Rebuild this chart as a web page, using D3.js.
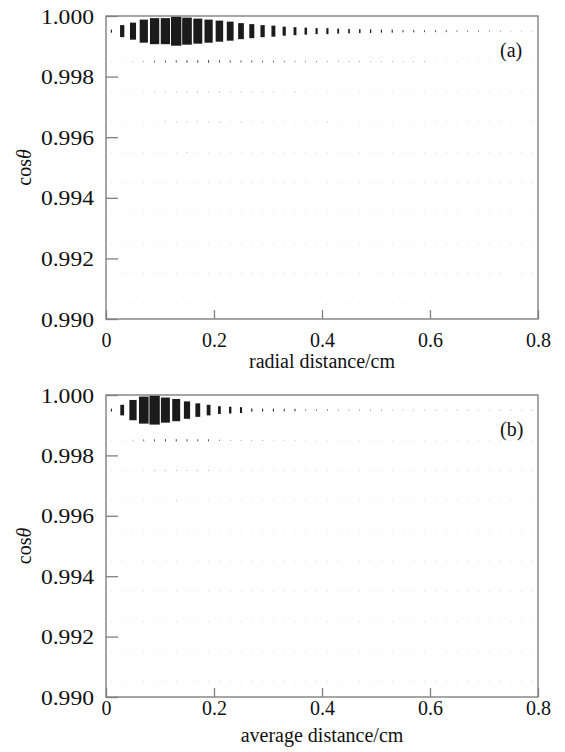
<!DOCTYPE html>
<html>
<head>
<meta charset="utf-8">
<script src="https://cdn.jsdelivr.net/npm/d3@7"></script>
<style>
  body { margin: 0; background: #fff; }
</style>
</head>
<body>
<div id="chart"></div>
<script>

// bin centres (distance in cm, cos theta)
var distBins = [0.01,0.03,0.05,0.07,0.09,0.11,0.13,0.15,0.17,0.19,
                0.21,0.23,0.25,0.27,0.29,0.31,0.33,0.35,0.37,0.39,
                0.41,0.43,0.45,0.47,0.49,0.51,0.53,0.55,0.57,0.59,
                0.61,0.63,0.65,0.67,0.69,0.71,0.73,0.75,0.77,0.79];
var cosBins = [0.9995,0.9985,0.9975,0.9965,0.9955,0.9945,0.9935,0.9925,0.9915,0.9905];

var xTicks = [0, 0.2, 0.4, 0.6, 0.8];
var yTicks = [0.990, 0.992, 0.994, 0.996, 0.998, 1.000];

// counts per cos bin row (top row first), panel (a)
var countsA = [
  [22,342,688,1258,1608,1608,2000,1734,1486,1258,1048,858,608,466,342,288,192,152,116,86,86,60,48,38,30,22,22,14,14,10,10,10,6,6,6,4,4,2,2,2],
  [1,1,2,3,8,10,12,14,14,14,12,12,10,10,8,8,6,5,4,4,3,3,3,3,2,2,2,2,2,2,1,1,1,1,1,1,1,1,1,1],
  [1,1,1,1,2,2,2,3,3,2,3,2,2,2,2,2,1,2,1,1,1,1,1,1,1,1,1,1,1,1,1,1,1,1,1,1,1,1,1,1],
  [1,1,1,1,1,2,2,2,2,2,2,1,2,1,2,1,1,1,1,1,2,1,1,1,1,1,1,1,1,1,1,1,1,1,1,1,1,1,0,1],
  [1,1,1,1,1,1,1,2,1,1,1,1,1,1,1,1,1,1,1,1,1,1,1,1,1,1,1,1,1,1,1,1,1,1,1,1,1,1,1,1],
  [1,1,1,1,1,1,1,1,1,1,1,1,1,1,1,1,1,1,1,0,1,1,1,1,1,1,1,1,1,1,1,1,1,1,1,1,1,1,1,1],
  [1,0,1,1,1,1,1,1,1,1,1,1,1,1,1,1,1,1,1,1,1,1,1,1,1,1,1,1,1,1,1,1,1,0,1,1,1,1,0,1],
  [1,1,1,1,1,1,1,1,1,1,1,1,1,1,1,1,1,1,1,1,1,1,1,1,1,1,1,1,1,1,1,1,1,1,1,1,1,1,1,1],
  [0,1,1,1,1,1,1,1,1,1,1,1,1,1,1,1,1,1,1,1,1,1,1,1,0,1,1,1,1,1,1,1,1,1,1,1,1,0,1,1],
  [1,1,1,1,1,1,1,1,1,1,1,1,1,1,1,1,1,1,1,1,1,1,1,1,1,1,1,1,1,1,1,1,1,1,1,1,1,1,1,1]
];

// panel (b)
var countsB = [
  [20,268,980,1742,2000,1502,1176,720,436,268,142,108,80,24,20,20,16,16,6,6,6,4,4,4,4,4,2,2,2,2,2,2,2,2,2,2,2,2,2,2],
  [1,1,3,8,10,12,12,12,10,10,5,3,3,3,3,2,2,2,1,1,1,1,1,1,1,1,1,1,1,1,1,1,1,1,1,1,1,1,1,1],
  [1,1,1,1,2,2,2,2,2,2,1,1,1,1,1,1,1,1,1,1,1,1,1,1,1,1,1,1,1,1,1,1,1,1,1,1,1,1,1,1],
  [1,1,1,1,1,1,2,1,1,1,1,1,1,1,1,1,1,1,1,1,1,1,1,1,1,1,1,1,1,1,1,1,1,1,1,1,1,1,0,1],
  [1,1,1,1,1,1,1,1,1,1,1,1,1,1,1,1,1,1,1,1,1,1,1,1,1,1,1,1,1,1,1,1,1,1,1,1,1,1,1,1],
  [1,1,1,1,1,1,1,1,1,1,1,1,1,1,1,1,1,1,1,1,1,1,1,1,1,1,1,1,1,1,1,1,1,1,1,1,1,1,1,1],
  [1,1,1,1,1,1,1,1,1,1,1,1,1,1,1,1,1,1,1,1,1,1,1,1,1,1,1,1,1,1,1,1,1,1,1,1,1,1,1,1],
  [1,1,1,1,1,1,1,1,1,1,1,1,1,1,1,1,1,1,1,1,1,1,1,1,1,1,1,1,1,1,1,1,1,1,1,1,1,1,1,1],
  [1,1,1,1,1,1,1,1,1,1,1,1,1,1,1,1,1,1,1,1,1,1,1,1,1,1,1,1,1,1,0,1,1,1,1,1,1,1,1,1],
  [1,1,1,1,1,1,1,1,1,1,1,1,1,1,1,1,1,1,1,1,1,1,1,1,1,1,1,1,1,1,1,1,1,1,1,1,1,1,1,1]
];

var serif = "Liberation Serif";
var fs = 20;

var svg = d3.select("#chart")
  .append("svg")
    .attr("width", 565)
    .attr("height", 752)
    .attr("font-family", serif);

var left = 106, right = 538;
var axisColor = "#808080";

var x = d3.scaleLinear().domain([0, 0.8]).range([left, right]);

function drawPanel(counts, top, bottom, tag, xTitle, labelGap, titleGap) {

  var y = d3.scaleLinear().domain([0.990, 1.000]).range([bottom, top]);
  var maxCount = d3.max(counts, function(r) { return d3.max(r); });
  var size = d3.scaleSqrt().domain([0, maxCount]).range([0, 0.96]);

  var cellW = x(0.02) - x(0);
  var cellH = y(0.990) - y(0.991);

  // flatten into cells
  var cells = [];
  counts.forEach(function(row, i) {
    row.forEach(function(c, j) {
      if (c > 0) cells.push({ x: distBins[j], y: cosBins[i], c: c });
    });
  });

  var g = svg.append("g");

  // boxes
  g.selectAll("rect.box")
    .data(cells)
    .enter().append("rect")
      .attr("class", "box")
      .attr("x", function(d) { return x(d.x) - size(d.c) * cellW / 2; })
      .attr("y", function(d) { return y(d.y) - size(d.c) * cellH / 2; })
      .attr("width", function(d) { return size(d.c) * cellW; })
      .attr("height", function(d) { return size(d.c) * cellH; })
      .attr("fill", "#1b1b1b");

  // frame
  g.append("rect")
    .attr("x", left)
    .attr("y", top)
    .attr("width", right - left)
    .attr("height", bottom - top)
    .attr("fill", "none")
    .attr("stroke", axisColor)
    .attr("stroke-width", 1.4);

  // x axis, ticks pointing inward
  var xAxis = g.append("g")
    .attr("transform", "translate(0," + bottom + ")")
    .call(d3.axisBottom(x).tickValues(xTicks).tickSizeInner(-9).tickSizeOuter(0)
      .tickFormat(function(d) { return d === 0 ? "0" : d3.format(".1f")(d); }));
  xAxis.attr("font-family", null).attr("font-size", null);
  xAxis.select(".domain").remove();
  xAxis.selectAll("line").attr("stroke", axisColor).attr("stroke-width", 1.3);
  xAxis.selectAll("text")
    .attr("y", labelGap)
    .attr("dy", 0)
    .attr("font-family", serif)
    .attr("font-size", fs)
    .attr("fill", "#111");

  // y axis
  var yAxis = g.append("g")
    .attr("transform", "translate(" + left + ",0)")
    .call(d3.axisLeft(y).tickValues(yTicks).tickSizeInner(-12).tickSizeOuter(0)
      .tickFormat(d3.format(".3f")));
  yAxis.attr("font-family", null).attr("font-size", null);
  yAxis.select(".domain").remove();
  yAxis.selectAll("line").attr("stroke", axisColor).attr("stroke-width", 1.3);
  // labels are drawn wide in the original
  yAxis.selectAll("text")
    .attr("x", 0)
    .attr("dy", "0.35em")
    .attr("transform", "translate(-12,0) scale(1.18,1)")
    .attr("font-family", serif)
    .attr("font-size", fs)
    .attr("fill", "#111");

  // x title
  g.append("text")
    .attr("text-anchor", "middle")
    .attr("x", (left + right) / 2)
    .attr("y", bottom + titleGap)
    .attr("font-size", fs)
    .attr("fill", "#111")
    .text(xTitle);

  // y title
  var yt = g.append("text")
    .attr("text-anchor", "middle")
    .attr("transform", "translate(31," + ((top + bottom) / 2) + ") rotate(-90)")
    .attr("font-size", fs)
    .attr("fill", "#111");
  yt.append("tspan").text("cos");
  yt.append("tspan").attr("font-style", "italic").text("\u03b8");

  // panel tag
  g.append("text")
    .attr("x", 500)
    .attr("y", top + 41)
    .attr("font-size", fs)
    .attr("fill", "#111")
    .text(tag);
}

drawPanel(countsA, 16, 319, "(a)", "radial distance/cm", 28, 49);
drawPanel(countsB, 395, 697, "(b)", "average distance/cm", 18, 45);

</script>
</body>
</html>
